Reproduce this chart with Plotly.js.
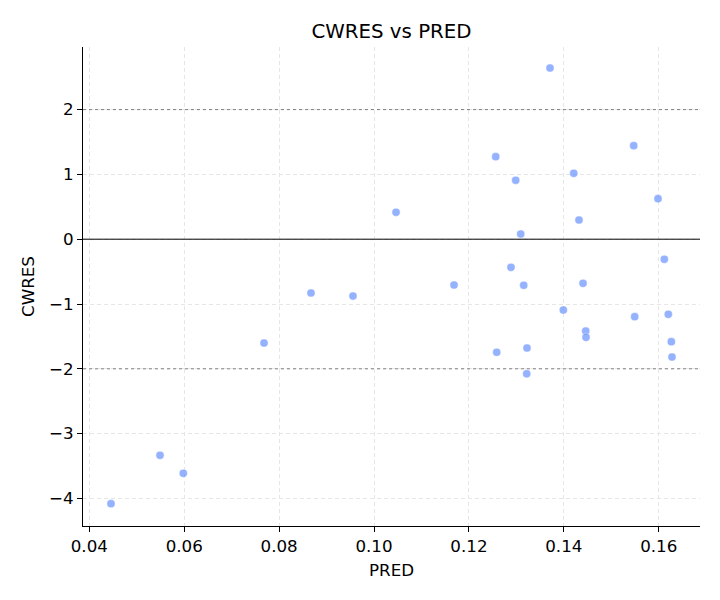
<!DOCTYPE html>
<html>
<head>
<meta charset="utf-8">
<script src="https://cdn.plot.ly/plotly-3.0.1.min.js"></script>
<style>
  html, body { margin: 0; padding: 0; background: #fff; }
  #chart { width: 720px; height: 600px; }
</style>
</head>
<body>
<div id="chart"></div>
<script>
// Population predictions and conditional weighted residuals
const pred = [
  0.04457, 0.05490, 0.05981, 0.07682, 0.08672, 0.09557, 0.10464, 0.11686,
  0.12565, 0.12586, 0.12887, 0.12986, 0.13092, 0.13155, 0.13224, 0.13218,
  0.13709, 0.13990, 0.14209, 0.14320, 0.14405, 0.14462, 0.14468, 0.15473,
  0.15494, 0.15985, 0.16118, 0.16202, 0.16266, 0.16280
];
const cwres = [
  -4.082, -3.335, -3.613, -1.602, -0.830, -0.877, 0.415, -0.707,
  1.273, -1.745, -0.434, 0.909, 0.080, -0.711, -1.679, -2.077,
  2.642, -1.093, 1.017, 0.296, -0.681, -1.417, -1.514, 1.443,
  -1.196, 0.625, -0.310, -1.159, -1.582, -1.818
];
const xTicks = [0.04, 0.06, 0.08, 0.10, 0.12, 0.14, 0.16];
const xTickText = ['0.04', '0.06', '0.08', '0.10', '0.12', '0.14', '0.16'];
const yTicks = [-4, -3, -2, -1, 0, 1, 2];
const refLevels = [-2, 2];

const family = 'DejaVu Sans, sans-serif';
const font = { family: family, size: 16.7, color: '#000' };

const trace = {
  x: pred,
  y: cwres,
  type: 'scatter',
  mode: 'markers',
  marker: {
    color: '#648fff',
    opacity: 0.68,
    size: 8.2,
    line: { color: '#ffffff', width: 0.5 }
  },
  hoverinfo: 'x+y'
};

const shapes = [
  {
    type: 'line', xref: 'paper', yref: 'y', x0: 0, x1: 1, y0: 0, y1: 0,
    line: { color: '#000', width: 1 }
  }
].concat(refLevels.map(v => ({
  type: 'line', xref: 'paper', yref: 'y', x0: 0, x1: 1, y0: v, y1: v,
  line: { color: '#808080', width: 1, dash: 'dot' }
})));

const layout = {
  width: 720,
  height: 600,
  paper_bgcolor: '#fff',
  plot_bgcolor: '#fff',
  font: font,
  showlegend: false,
  margin: { l: 83, r: 20, t: 47, b: 74 },
  title: {
    text: 'CWRES vs PRED',
    font: { family: family, size: 19.8, color: '#000' },
    xref: 'paper', x: 0.5, xanchor: 'center',
    yref: 'container', y: 1 - 31 / 600, yanchor: 'middle'
  },
  xaxis: {
    range: [0.03867, 0.16870],
    tickvals: xTicks,
    ticktext: xTickText,
    ticks: 'outside', ticklen: 5, tickwidth: 1, tickcolor: '#000',
    showline: true, linecolor: '#000', linewidth: 1,
    showgrid: true, gridcolor: '#e6e6e6', griddash: '4px,3px', gridwidth: 1,
    zeroline: false,
    tickfont: font,
    title: { text: 'PRED', font: font, standoff: 9 }
  },
  yaxis: {
    range: [-4.426, 2.966],
    tickvals: yTicks,
    ticks: 'outside', ticklen: 5, tickwidth: 1, tickcolor: '#000',
    showline: true, linecolor: '#000', linewidth: 1,
    showgrid: true, gridcolor: '#e6e6e6', griddash: '4px,3px', gridwidth: 1,
    zeroline: false,
    tickfont: font,
    title: { text: 'CWRES', font: font, standoff: 10 }
  },
  shapes: shapes
};

Plotly.newPlot('chart', [trace], layout, { displayModeBar: false, staticPlot: true });
</script>
</body>
</html>
